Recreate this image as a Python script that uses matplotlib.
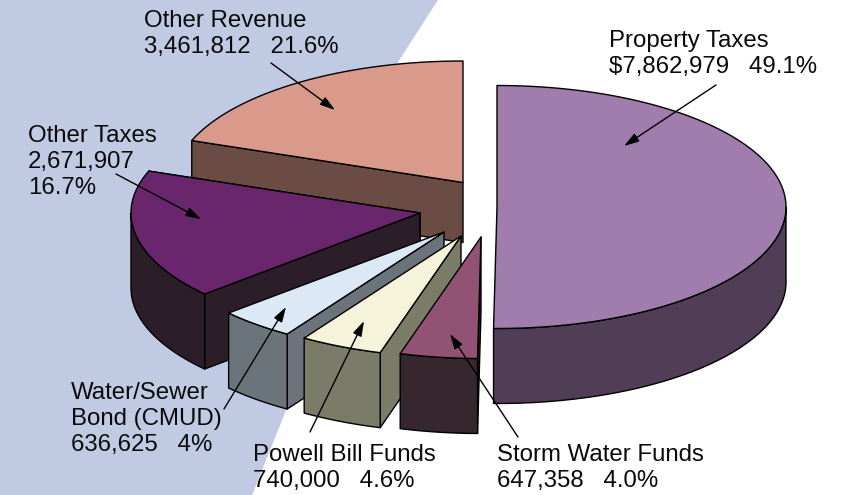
import numpy as np
import matplotlib
matplotlib.use("Agg")
import matplotlib.pyplot as plt
from matplotlib.patches import Polygon

plt.rcParams['font.family'] = ['Liberation Sans', 'DejaVu Sans']

# --- data ---
categories = ["Other Revenue", "Other Taxes", "Water/Sewer Bond (CMUD)",
              "Powell Bill Funds", "Storm Water Funds", "Property Taxes"]
values = [3461812, 2671907, 636625, 740000, 647358, 7862979]
labels = ["Other Revenue\n3,461,812   21.6%",
          "Other Taxes\n2,671,907\n16.7%",
          "Water/Sewer\nBond (CMUD)\n636,625   4%",
          "Powell Bill Funds\n740,000   4.6%",
          "Storm Water Funds\n647,358   4.0%",
          "Property Taxes\n$7,862,979   49.1%"]

# --- style / layout ---
top_colors = ["#d99a8b", "#69266d", "#dce8f5", "#f5f3da", "#915273", "#a07dac"]
side_colors = ["#6b4c45", "#2c1e29", "#6b747b", "#7a7c68", "#36262e", "#503e57"]
apex = [(463, 182.5), (420, 213), (444, 232), (461, 236), (481, 237), (497, 207)]
depths = [60, 75, 75, 75, 75, 75]
label_pos = [(144, 10), (28, 125), (71, 382), (253, 444), (497, 444), (609, 30)]
arrows = [((271, 63), (335, 110)), ((116, 174), (201, 219)), ((224, 409), (286, 307)),
          ((310, 432), (364, 321)), ((518, 437), (450, 334)), ((716, 85), (624, 146))]
RX, RY = 289, 121.5
W, H = 847, 495

def warp(a):
    """Perspective of the original 3-D view: pie angle to angle on the ellipse."""
    return np.interp(a, [90, 168, 228, 242, 259, 273.2, 450],
                     [90, 160, 222, 237, 254, 269.2, 450])

fig = plt.figure(figsize=(W / 100, H / 100), dpi=100)
ax = fig.add_axes([0, 0, 1, 1])
ax.set_xlim(0, W)
ax.set_ylim(H, 0)
ax.axis("off")

ax.add_patch(Polygon([(0, 0), (438, 0), (398, 62), (287, 408), (252, 495), (0, 495)],
                     closed=True, fc="#c1cae3", ec="none", zorder=0))

fractions = np.array(values, dtype=float) / sum(values)
edges = 90 + 360 * np.concatenate([[0], np.cumsum(fractions)])
LW = 1.0

def pt(c, ang):
    t = np.radians(ang)
    return np.array([c[0] + RX * np.cos(t), c[1] - RY * np.sin(t)])

for i in range(len(values)):
    c = apex[i]
    d = depths[i]
    a0, a1 = warp(edges[i]), warp(edges[i + 1])
    z = 1 + i * 3
    arc = np.array([pt(c, a) for a in np.linspace(a0, a1, 120)])
    # outer wall: only the part of the rim facing the viewer
    lo, hi = max(a0, 180), min(a1, 360)
    if hi > lo:
        rim = np.array([pt(c, a) for a in np.linspace(lo, hi, 120)])
        wall = np.vstack([rim, (rim + [0, d])[::-1]])
        ax.add_patch(Polygon(wall, closed=True, fc=side_colors[i], ec="black",
                             lw=LW, joinstyle="round", zorder=z + 1))
    # radial walls
    for ang in (a0, a1):
        p = pt(c, ang)
        quad = [c, p, p + [0, d], (c[0], c[1] + d)]
        visible = (ang == a1 and ang < 270) or (ang == a0 and ang > 90 and ang < 180)
        if visible:
            ax.add_patch(Polygon(quad, closed=True, fc=side_colors[i], ec="black",
                                 lw=LW, joinstyle="round", zorder=z))
    top = np.vstack([[c], arc])
    ax.add_patch(Polygon(top, closed=True, fc=top_colors[i], ec="black",
                         lw=LW, joinstyle="round", zorder=z + 2))

for (start, tip) in arrows:
    ax.annotate("", xy=tip, xytext=start, zorder=40,
                arrowprops=dict(arrowstyle="-|>,head_length=0.65,head_width=0.2",
                                color="black", lw=1.0, shrinkA=0, shrinkB=0,
                                mutation_scale=14))

for s, (x, y) in zip(labels, label_pos):
    ax.text(x, y, s, fontsize=17.3, color="#0a0a0a", ha="left", va="top",
            linespacing=1.25, zorder=50)

fig.savefig("out.png", dpi=100)
